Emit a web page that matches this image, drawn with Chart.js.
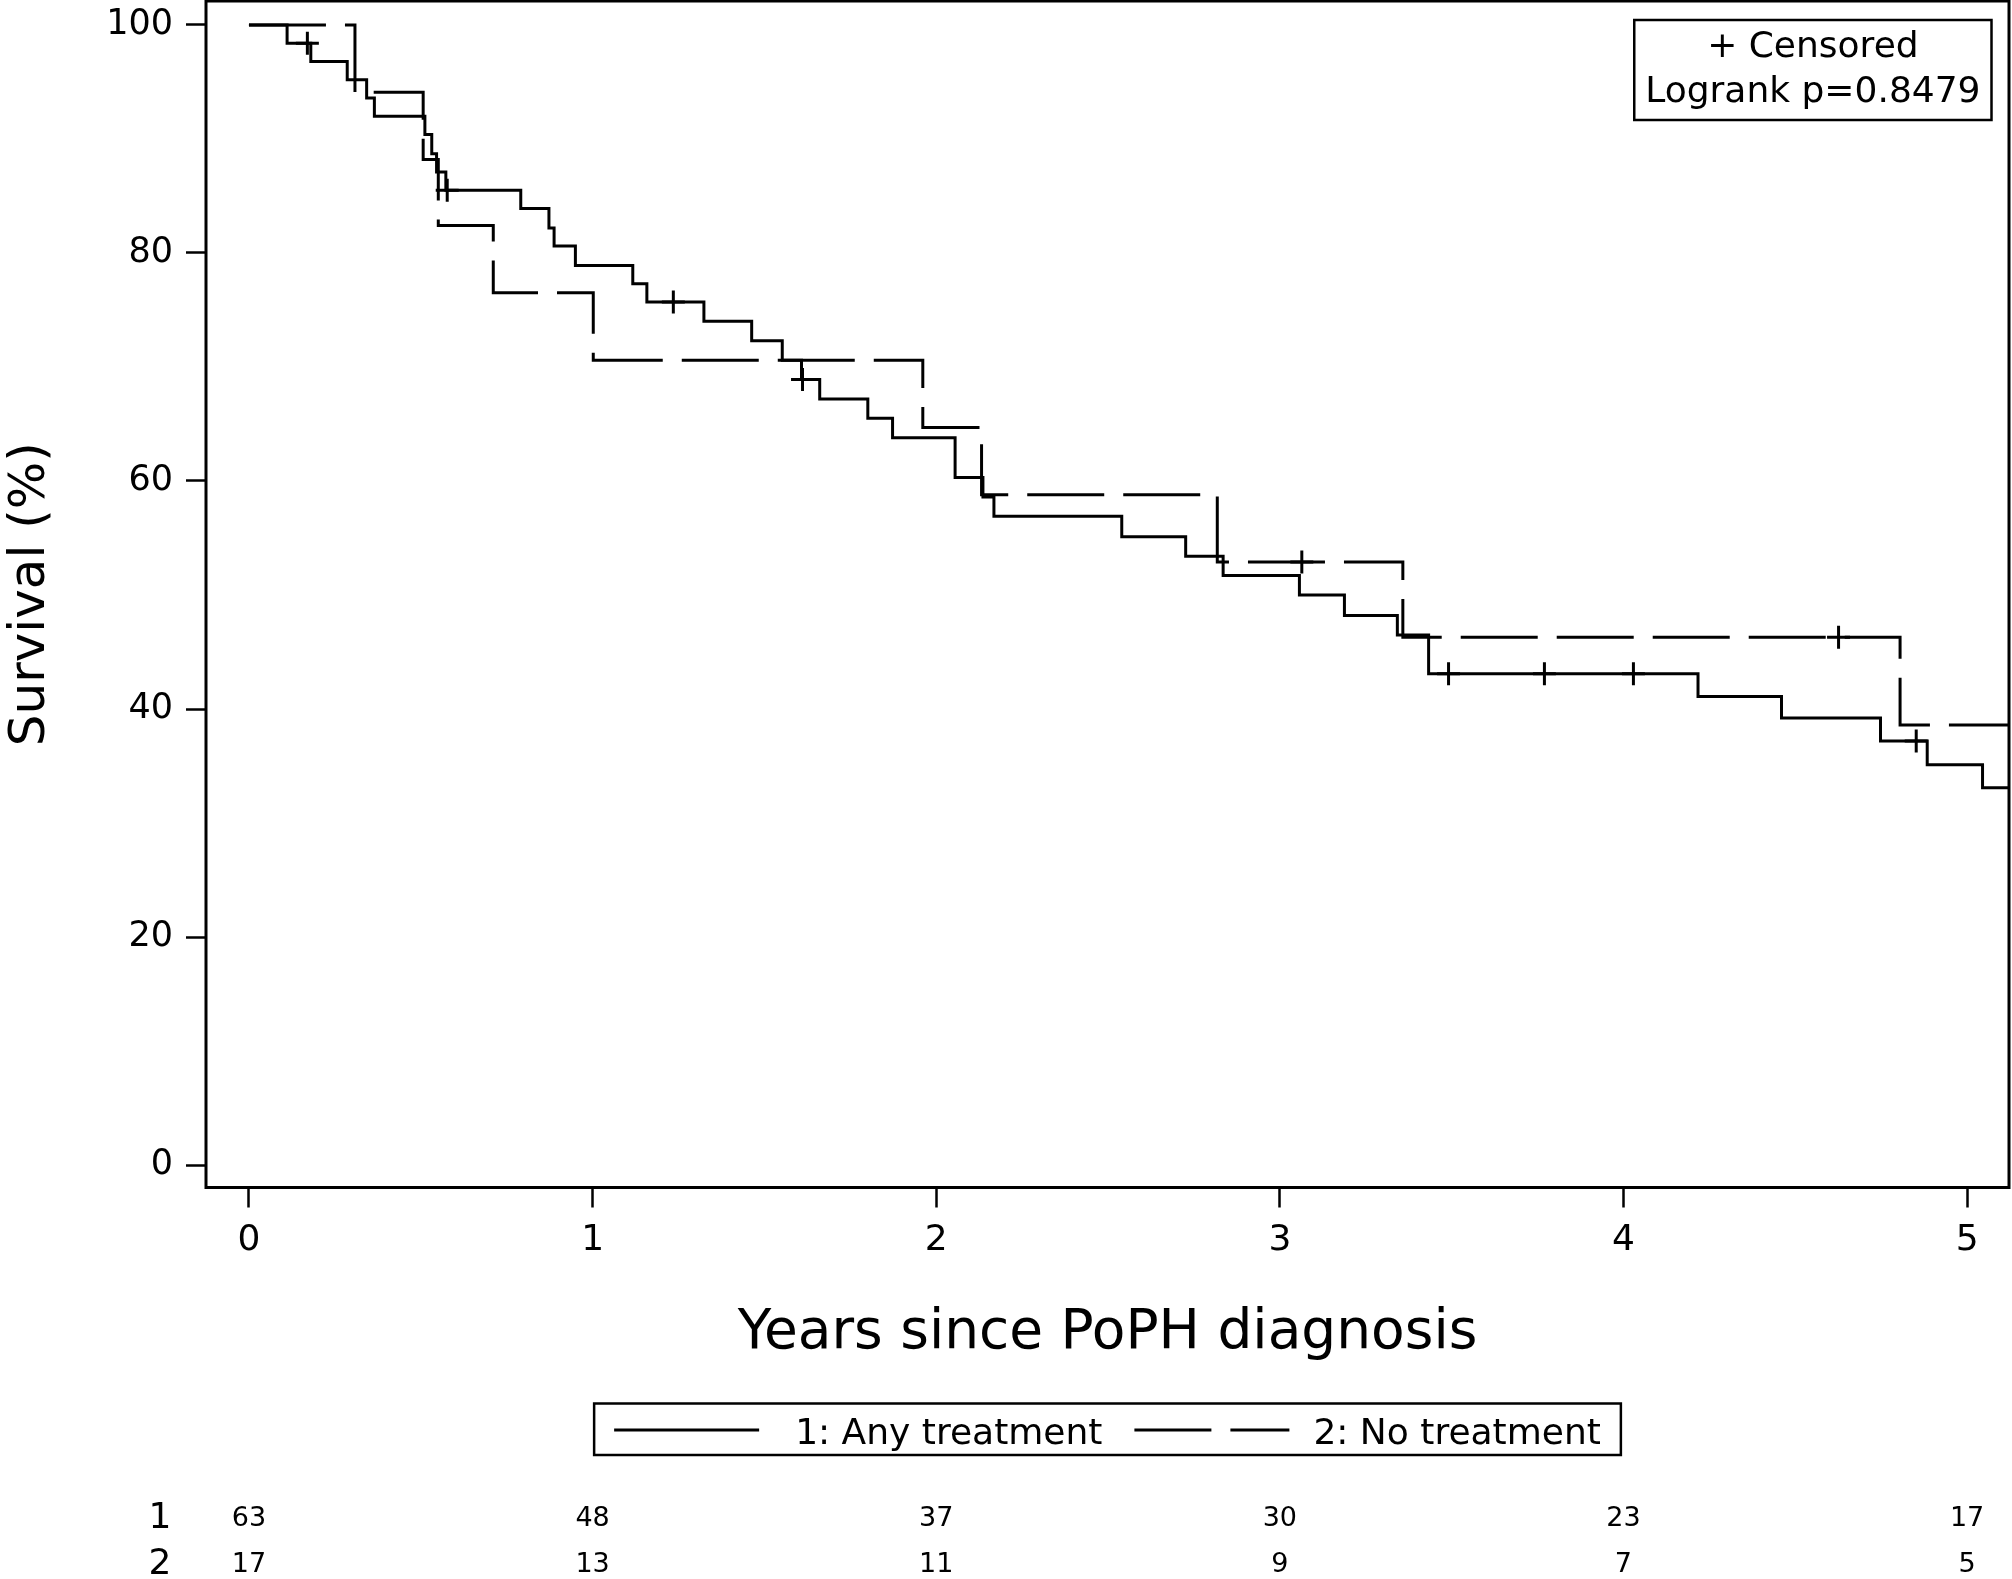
<!DOCTYPE html>
<html><head><meta charset="utf-8">
<script src="https://cdn.jsdelivr.net/npm/chart.js@4.4.1/dist/chart.umd.min.js"></script>
<style>html,body{margin:0;padding:0;background:#fff;} canvas{display:block;}</style>
</head><body>
<canvas id="km" width="2012" height="1579"></canvas>
<script>
// ---- data ----
const xTicks = [0, 1, 2, 3, 4, 5];
const yTicks = [0, 20, 40, 60, 80, 100];
const groupLabels = ['1: Any treatment', '2: No treatment'];
const rowLabels = ['1', '2'];
const insetLines = ['+ Censored', 'Logrank p=0.8479'];

// group 1: Any treatment (step curve: time of drop, survival after drop)
const anyTimes = [0, 0.111, 0.180, 0.286, 0.3425, 0.365, 0.512, 0.532, 0.546, 0.573, 0.791, 0.873, 0.888, 0.950, 1.117, 1.158, 1.324, 1.463, 1.552, 1.608, 1.661, 1.801, 1.873, 2.055, 2.136, 2.168, 2.540, 2.726, 2.835, 3.057, 3.188, 3.342, 3.433, 4.217, 4.460, 4.748, 4.884, 5.045, 5.25];
const anySurv  = [100, 98.4, 96.8, 95.2, 93.6, 92.0, 90.4, 88.7, 87.1, 85.5, 83.9, 82.2, 80.6, 78.9, 77.3, 75.7, 74.0, 72.3, 70.6, 68.9, 67.2, 65.5, 63.8, 60.3, 58.6, 56.9, 55.1, 53.4, 51.7, 50.0, 48.2, 46.5, 43.1, 41.1, 39.2, 37.2, 35.1, 33.1, 33.1];
const anyCensorTimes = [0.170, 0.577, 1.235, 1.611, 3.491, 3.770, 4.029, 4.852];
const anyCensorSurv  = [98.4, 85.5, 75.7, 68.9, 43.1, 43.1, 43.1, 37.2];

// group 2: No treatment
const noneTimes = [0, 0.3085, 0.507, 0.551, 0.711, 1.002, 1.961, 2.132, 2.818, 3.358, 4.805, 5.25];
const noneSurv  = [100, 94.1, 88.2, 82.4, 76.5, 70.6, 64.7, 58.8, 52.9, 46.3, 38.6, 38.6];
const noneCensorTimes = [3.064, 4.626];
const noneCensorSurv  = [52.9, 46.3];

// numbers at risk
const riskTimes = [0, 1, 2, 3, 4, 5];
const riskAny  = [63, 48, 37, 30, 23, 17];
const riskNone = [17, 13, 11, 9, 7, 5];

// ---- chart ----
const FONT = 'DejaVu Sans';
Chart.defaults.font.family = FONT;
Chart.defaults.color = '#000';
const pts = (xs, ys) => xs.map((x, i) => ({x: x, y: ys[i]}));
const DASH = [77, 19];

const extras = {
  id: 'extras',
  afterDraw(chart) {
    const ctx = chart.ctx, a = chart.chartArea, xs = chart.scales.x;
    ctx.save();
    ctx.strokeStyle = '#000'; ctx.fillStyle = '#000'; ctx.setLineDash([]);
    // frame
    ctx.lineWidth = 3;
    ctx.strokeRect(a.left, a.top, a.right - a.left, a.bottom - a.top);

    // inset box (top right)
    ctx.font = '36px "' + FONT + '"';
    const iw = Math.max(...insetLines.map(t => ctx.measureText(t).width)) + 22;
    const ih = 100;
    const ir = a.right - 17.5, it = a.top + 19;
    ctx.lineWidth = 2.5;
    ctx.strokeRect(ir - iw, it, iw, ih);
    ctx.textAlign = 'center'; ctx.textBaseline = 'alphabetic';
    ctx.fillText(insetLines[0], ir - iw / 2, it + 37);
    ctx.fillText(insetLines[1], ir - iw / 2, it + 82);

    // bottom legend
    ctx.font = '36px "' + FONT + '"';
    const s1 = 145, s2 = 155, gapT1 = 36, gapT2 = 24, gapItem = 32, padL = 20, padR = 20;
    const w1 = ctx.measureText(groupLabels[0]).width, w2 = ctx.measureText(groupLabels[1]).width;
    const lw = padL + s1 + gapT1 + w1 + gapItem + s2 + gapT2 + w2 + padR;
    const lx = (a.left + a.right) / 2 - lw / 2, ly = 1403.5, lh = 51.5;
    ctx.lineWidth = 2.5;
    ctx.strokeRect(lx, ly, lw, lh);
    const sy = 1430;
    let cx = lx + padL;
    ctx.lineWidth = 3;
    ctx.beginPath(); ctx.moveTo(cx, sy); ctx.lineTo(cx + s1, sy); ctx.stroke();
    cx += s1 + gapT1;
    ctx.textAlign = 'left'; ctx.textBaseline = 'alphabetic';
    ctx.fillText(groupLabels[0], cx, 1443.5);
    cx += w1 + gapItem;
    ctx.setLineDash(DASH);
    ctx.beginPath(); ctx.moveTo(cx, sy); ctx.lineTo(cx + s2, sy); ctx.stroke();
    ctx.setLineDash([]);
    cx += s2 + gapT2;
    ctx.fillText(groupLabels[1], cx, 1443.5);

    // numbers at risk
    const rowY = [1518.5, 1565];
    ctx.textAlign = 'center'; ctx.textBaseline = 'middle';
    ctx.font = '36px "' + FONT + '"';
    ctx.fillText(rowLabels[0], 160, rowY[0]);
    ctx.fillText(rowLabels[1], 160, rowY[1]);
    ctx.font = '27px "' + FONT + '"';
    riskTimes.forEach((t, i) => {
      const px = xs.getPixelForValue(t);
      ctx.fillText(String(riskAny[i]), px, rowY[0]);
      ctx.fillText(String(riskNone[i]), px, rowY[1]);
    });
    ctx.restore();
  }
};

const zeroPad = s => { s.paddingLeft = 0; s.paddingRight = 0; s.paddingTop = 0; s.paddingBottom = 0; };

new Chart(document.getElementById('km'), {
  type: 'line',
  data: {
    datasets: [
      { label: groupLabels[0], data: pts(anyTimes, anySurv), stepped: true,
        borderColor: '#000', borderWidth: 3, pointRadius: 0, fill: false },
      { label: groupLabels[1], data: pts(noneTimes, noneSurv), stepped: true,
        borderColor: '#000', borderWidth: 3, borderDash: DASH, pointRadius: 0, fill: false },
      { label: 'Censored 1', type: 'scatter', data: pts(anyCensorTimes, anyCensorSurv), showLine: false,
        pointStyle: 'cross', pointRadius: 11.5, borderWidth: 3, borderColor: '#000' },
      { label: 'Censored 2', type: 'scatter', data: pts(noneCensorTimes, noneCensorSurv), showLine: false,
        pointStyle: 'cross', pointRadius: 11.5, borderWidth: 3, borderColor: '#000' }
    ]
  },
  options: {
    responsive: false,
    devicePixelRatio: 1,
    animation: false,
    events: [],
    layout: { autoPadding: false, padding: { top: 1, right: 3, left: 0, bottom: 0 } },
    plugins: { legend: { display: false }, tooltip: { enabled: false } },
    scales: {
      x: {
        type: 'linear', position: 'bottom', min: -0.125, max: 5.122,
        afterBuildTicks: s => { s.ticks = xTicks.map(v => ({value: v})); },
        afterFit: s => { s.height = 391.5; zeroPad(s); },
        grid: { drawOnChartArea: false, drawTicks: true, tickLength: 20, tickWidth: 2.5, color: '#000', tickColor: '#000' },
        border: { display: false },
        ticks: { font: { size: 36 }, padding: 12, color: '#000', maxRotation: 0, autoSkip: false },
        title: { display: true, text: 'Years since PoPH diagnosis', color: '#000',
                 font: { size: 55 }, padding: { top: 0, bottom: 212 } }
      },
      y: {
        type: 'linear', position: 'left', min: -1.97, max: 102.1,
        afterBuildTicks: s => { s.ticks = yTicks.map(v => ({value: v})); },
        afterFit: s => { s.width = 206; zeroPad(s); },
        grid: { drawOnChartArea: false, drawTicks: true, tickLength: 20, tickWidth: 2.5, color: '#000', tickColor: '#000' },
        border: { display: false },
        ticks: { font: { size: 35 }, padding: 13, color: '#000', autoSkip: false },
        title: { display: true, text: 'Survival (%)', color: '#000',
                 font: { size: 50, lineHeight: 1.1 }, padding: { top: 4, bottom: 0 } }
      }
    }
  },
  plugins: [extras]
});
</script>
</body></html>
